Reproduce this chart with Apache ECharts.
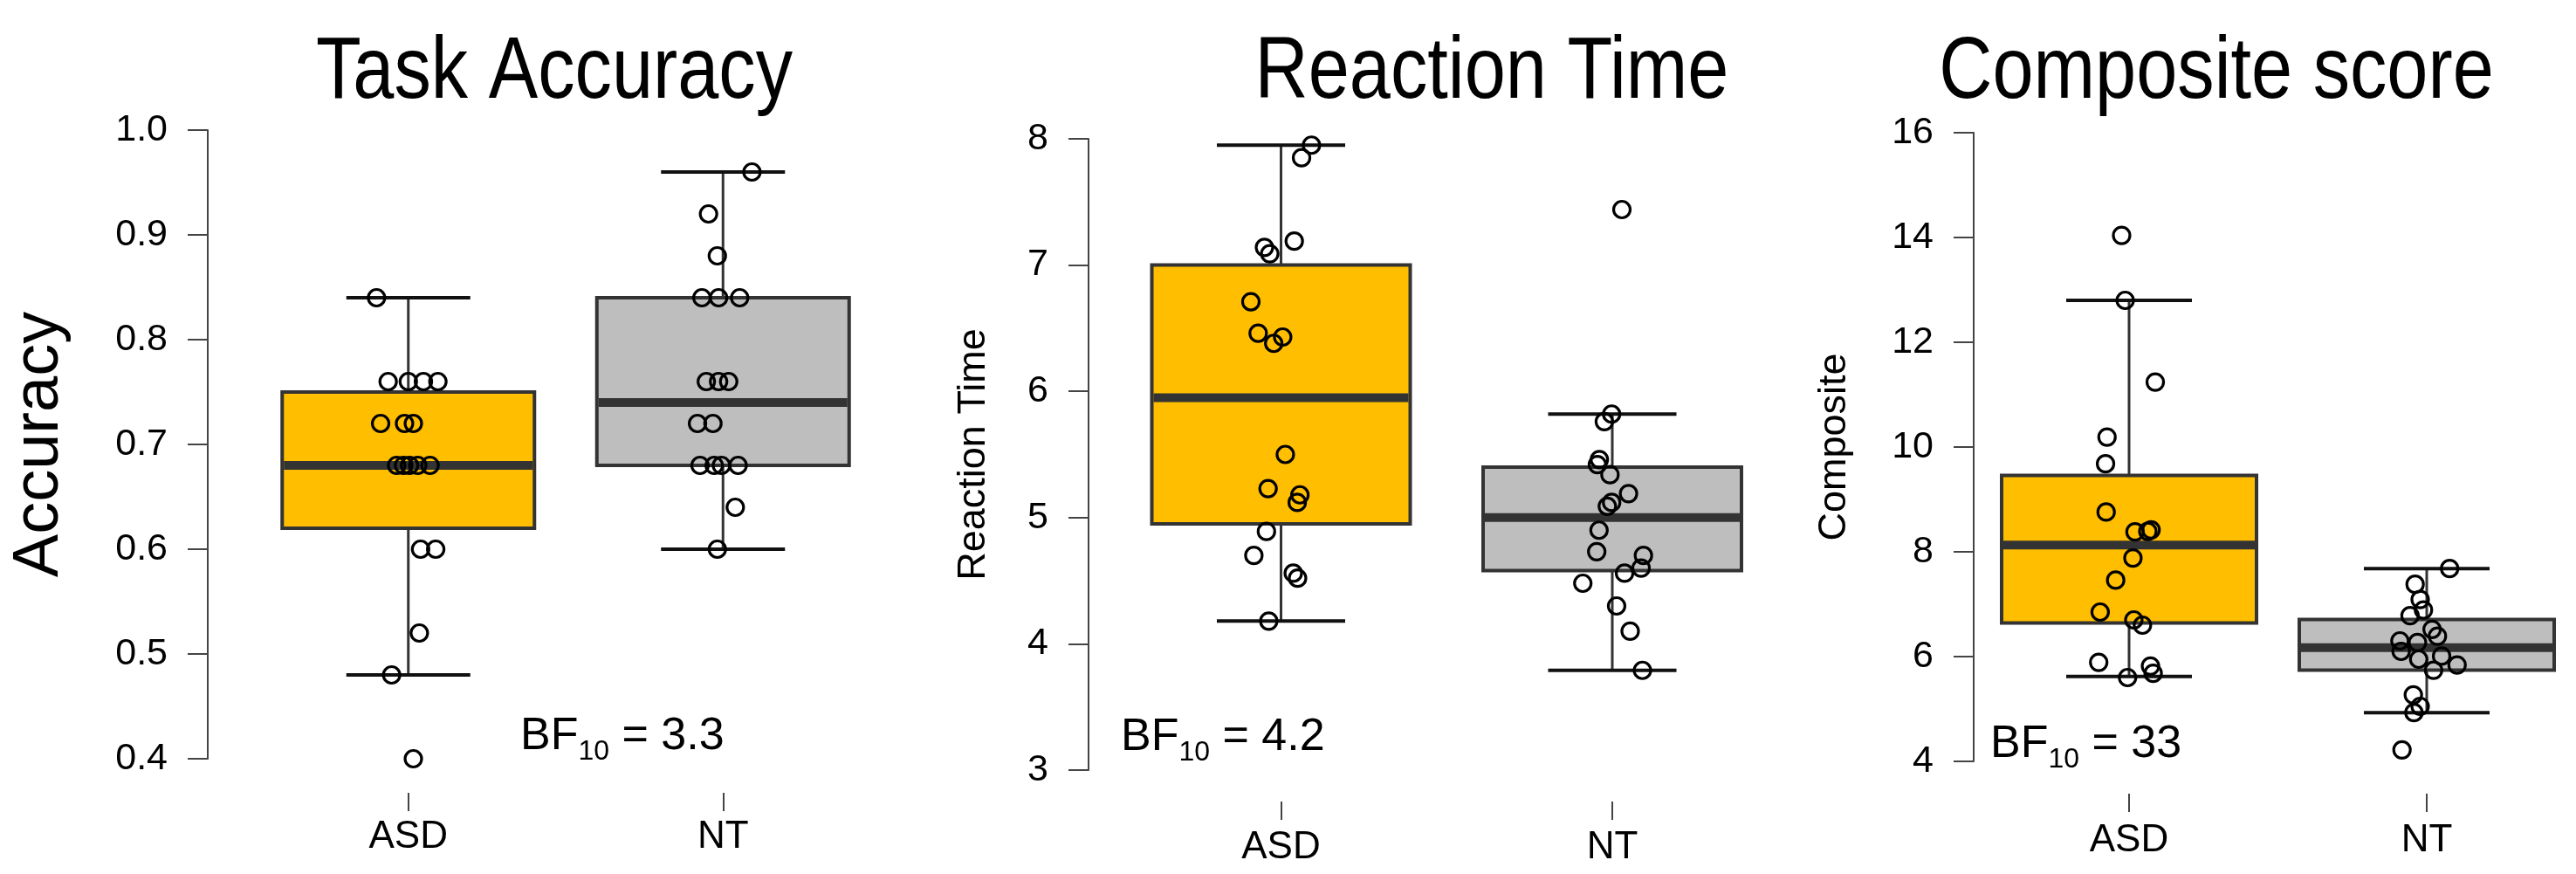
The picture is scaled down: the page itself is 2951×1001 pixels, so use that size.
<!DOCTYPE html>
<html><head><meta charset="utf-8">
<script src="https://cdn.jsdelivr.net/npm/echarts@6/dist/echarts.min.js"></script>
<style>html,body{margin:0;padding:0;background:#fff}#c{width:2951px;height:1001px}</style>
</head><body><div id="c"></div>
<script>
// ---------------- DATA ----------------
const categories = ['ASD', 'NT'];

// box stats: [min whisker, Q1, median, Q3, max whisker]
const accuracyBoxASD = [0.48, 0.62, 0.68, 0.75, 0.84];
const accuracyBoxNT  = [0.60, 0.68, 0.74, 0.84, 0.96];
const accuracyASD = [0.84, 0.76, 0.76, 0.76, 0.76, 0.72, 0.72, 0.72, 0.68, 0.68, 0.68, 0.68, 0.68, 0.60, 0.60, 0.52, 0.48, 0.40];
const accuracyASDJitter = [-0.101, -0.064, 0.000, 0.048, 0.094, -0.088, -0.012, 0.016, -0.037, -0.015, 0.004, 0.030, 0.069, 0.039, 0.087, 0.035, -0.053, 0.016];
const accuracyNT = [0.96, 0.92, 0.88, 0.84, 0.84, 0.84, 0.76, 0.76, 0.76, 0.72, 0.72, 0.68, 0.68, 0.68, 0.68, 0.64, 0.60];
const accuracyNTJitter = [0.092, -0.046, -0.018, -0.067, -0.014, 0.053, -0.053, -0.014, 0.018, -0.081, -0.032, -0.073, -0.028, -0.005, 0.048, 0.039, -0.018];

const rtBoxASD = [4.18, 4.95, 5.95, 7.00, 7.95];
const rtBoxNT  = [3.79, 4.58, 5.00, 5.40, 5.82];
const rtASD = [7.95, 7.85, 7.19, 7.14, 7.09, 6.71, 6.46, 6.38, 6.43, 5.50, 5.23, 5.18, 5.12, 4.89, 4.70, 4.56, 4.52, 4.18];
const rtASDJitter = [0.092, 0.062, 0.040, -0.050, -0.034, -0.091, -0.069, -0.022, 0.005, 0.013, -0.039, 0.057, 0.049, -0.044, -0.082, 0.037, 0.050, -0.037];
const rtNT = [7.44, 5.82, 5.76, 5.46, 5.42, 5.34, 5.19, 5.12, 5.09, 4.90, 4.73, 4.70, 4.60, 4.56, 4.48, 4.30, 4.10, 3.79];
const rtNTJitter = [0.029, -0.002, -0.024, -0.039, -0.045, -0.007, 0.049, -0.002, -0.015, -0.040, -0.047, 0.094, 0.087, 0.037, -0.089, 0.013, 0.054, 0.091];

const compBoxASD = [5.62, 6.64, 8.13, 9.46, 12.80];
const compBoxNT  = [4.93, 5.74, 6.17, 6.71, 7.68];
const compASD = [14.04, 12.80, 11.24, 10.19, 9.68, 8.76, 8.38, 8.39, 8.42, 7.88, 7.46, 6.85, 6.70, 6.60, 5.89, 5.82, 5.68, 5.60];
const compASDJitter = [-0.025, -0.013, 0.088, -0.074, -0.079, -0.077, 0.020, 0.063, 0.074, 0.013, -0.045, -0.097, 0.016, 0.045, -0.102, 0.072, 0.081, -0.005];
const compNT = [7.68, 7.38, 7.09, 6.89, 6.78, 6.52, 6.39, 6.30, 6.27, 6.10, 5.95, 6.01, 5.84, 5.74, 5.27, 5.05, 4.93, 4.22];
const compNTJitter = [0.077, -0.039, -0.022, -0.011, -0.056, 0.018, 0.036, -0.090, -0.031, -0.086, -0.027, 0.050, 0.102, 0.023, -0.045, -0.022, -0.043, -0.083];

const titles = ['Task Accuracy', 'Reaction Time', 'Composite score'];
const yNames = ['Accuracy', 'Reaction Time', 'Composite'];
const bfValues = ['3.3', '4.2', '33'];

// ---------------- LAYOUT / STYLE ----------------
const boxColors = ['#FFBE00', '#BEBEBE'];
const FONT = '"Liberation Sans", Arial, Helvetica, sans-serif';

const panels = [
  {left: 287.5, top: 149, width: 721, height: 720, yOffset: 49.5, yMin: 0.4, yMax: 1.0, yInt: 0.1, dec: 1,
   nameSize: 74, nameGap: 155, xOffset: 39, labelMargin: 29, boxPx: 289, capPx: 142,
   box: [accuracyBoxASD, accuracyBoxNT], pts: [[accuracyASD, accuracyASDJitter], [accuracyNT, accuracyNTJitter]],
   titleX: 635, bfX: 596, bfY: 844},
  {left: 1277.75, top: 159, width: 759, height: 723, yOffset: 30.75, yMin: 3, yMax: 8, yInt: 1, dec: 0,
   nameSize: 45, nameGap: 109, xOffset: 36, labelMargin: 31, boxPx: 296, capPx: 147,
   box: [rtBoxASD, rtBoxNT], pts: [[rtASD, rtASDJitter], [rtNT, rtNTJitter]],
   titleX: 1709, bfX: 1284, bfY: 845},
  {left: 2268.5, top: 152, width: 682, height: 720, yOffset: 7.5, yMin: 4, yMax: 16, yInt: 2, dec: 0,
   nameSize: 45, nameGap: 136.5, xOffset: 37, labelMargin: 32, boxPx: 292, capPx: 144,
   box: [compBoxASD, compBoxNT], pts: [[compASD, compASDJitter], [compNT, compNTJitter]],
   titleX: 2539, bfX: 2280, bfY: 853}
];

const grid = [], xAxis = [], yAxis = [], series = [], graphic = [];

panels.forEach(function (P, i) {
  grid.push({left: P.left, top: P.top, width: P.width, height: P.height, containLabel: false});
  xAxis.push({type: 'value', gridIndex: i, min: -0.5, max: 1.5, show: false});
  xAxis.push({type: 'category', gridIndex: i, data: categories, boundaryGap: true, position: 'bottom',
    offset: P.xOffset, axisLine: {show: false, onZero: false},
    axisTick: {show: true, alignWithLabel: true, length: 21, lineStyle: {color: '#444', width: 2}},
    axisLabel: {margin: P.labelMargin, fontSize: 44, lineHeight: 44, color: '#000', fontFamily: FONT},
    splitLine: {show: false}});
  yAxis.push({type: 'value', gridIndex: i, min: P.yMin, max: P.yMax, interval: P.yInt, offset: P.yOffset,
    position: 'left',
    axisLine: {show: true, onZero: false, lineStyle: {color: '#444', width: 2}},
    axisTick: {show: true, length: 23, lineStyle: {color: '#444', width: 2}},
    splitLine: {show: false},
    axisLabel: {margin: 46, fontSize: 43, color: '#000', fontFamily: FONT,
      formatter: (function (d) { return function (v) { return Number(v).toFixed(d); }; })(P.dec)},
    name: yNames[i], nameLocation: 'middle', nameRotate: 90, nameGap: P.nameGap,
    nameTextStyle: {fontSize: P.nameSize, color: '#000', fontFamily: FONT}});

  const boxData = P.box.map(function (b, k) { return [k].concat(b); });
  series.push({
    type: 'custom', xAxisIndex: 2 * i, yAxisIndex: i, silent: true, z: 2,
    encode: {x: 0, y: [1, 2, 3, 4, 5]},
    data: boxData,
    renderItem: function (params, api) {
      const x = api.value(0);
      const p = [1, 2, 3, 4, 5].map(function (k) { return api.coord([x, api.value(k)]); });
      const cx = p[0][0], bw = P.boxPx, cw = P.capPx;
      return {type: 'group', children: [
        {type: 'line', shape: {x1: cx, y1: p[0][1], x2: cx, y2: p[1][1]}, style: {stroke: '#333', lineWidth: 3}},
        {type: 'line', shape: {x1: cx, y1: p[3][1], x2: cx, y2: p[4][1]}, style: {stroke: '#333', lineWidth: 3}},
        {type: 'line', shape: {x1: cx - cw / 2, y1: p[0][1], x2: cx + cw / 2, y2: p[0][1]}, style: {stroke: '#111', lineWidth: 4}},
        {type: 'line', shape: {x1: cx - cw / 2, y1: p[4][1], x2: cx + cw / 2, y2: p[4][1]}, style: {stroke: '#111', lineWidth: 4}},
        {type: 'rect', shape: {x: cx - bw / 2, y: p[3][1], width: bw, height: p[1][1] - p[3][1]},
          style: {fill: boxColors[params.dataIndex], stroke: '#333', lineWidth: 4}},
        {type: 'line', shape: {x1: cx - bw / 2 + 2, y1: p[2][1], x2: cx + bw / 2 - 2, y2: p[2][1]}, style: {stroke: '#333', lineWidth: 10}}
      ]};
    }
  });

  const scatterData = [];
  P.pts.forEach(function (g, k) {
    g[0].forEach(function (v, j) { scatterData.push([k + g[1][j], v]); });
  });
  series.push({type: 'scatter', xAxisIndex: 2 * i, yAxisIndex: i, silent: true, z: 5,
    symbol: 'circle', symbolSize: 19, data: scatterData,
    itemStyle: {color: 'rgba(0,0,0,0)', borderColor: '#000', borderWidth: 3.2, opacity: 1}});

  graphic.push({type: 'text', x: P.titleX, y: 84, scaleX: 0.847, silent: true,
    style: {text: titles[i], fontSize: 100, fontFamily: FONT, fill: '#000',
      align: 'center', verticalAlign: 'middle', textAlign: 'center', textVerticalAlign: 'middle'}});
  graphic.push({type: 'text', x: P.bfX, y: P.bfY, silent: true,
    style: {text: '{a|BF}{b|10}{a| = ' + bfValues[i] + '}', fill: '#000',
      align: 'left', verticalAlign: 'middle', textAlign: 'left', textVerticalAlign: 'middle',
      rich: {a: {fontSize: 52, lineHeight: 66, fontFamily: FONT, fill: '#000'},
             b: {fontSize: 32, lineHeight: 32, fontFamily: FONT, fill: '#000', verticalAlign: 'bottom'}}}});
});

const chart = echarts.init(document.getElementById('c'), null, {renderer: 'canvas'});
chart.setOption({
  animation: false,
  backgroundColor: '#fff',
  grid: grid, xAxis: xAxis, yAxis: yAxis, series: series, graphic: graphic
});
</script></body></html>
